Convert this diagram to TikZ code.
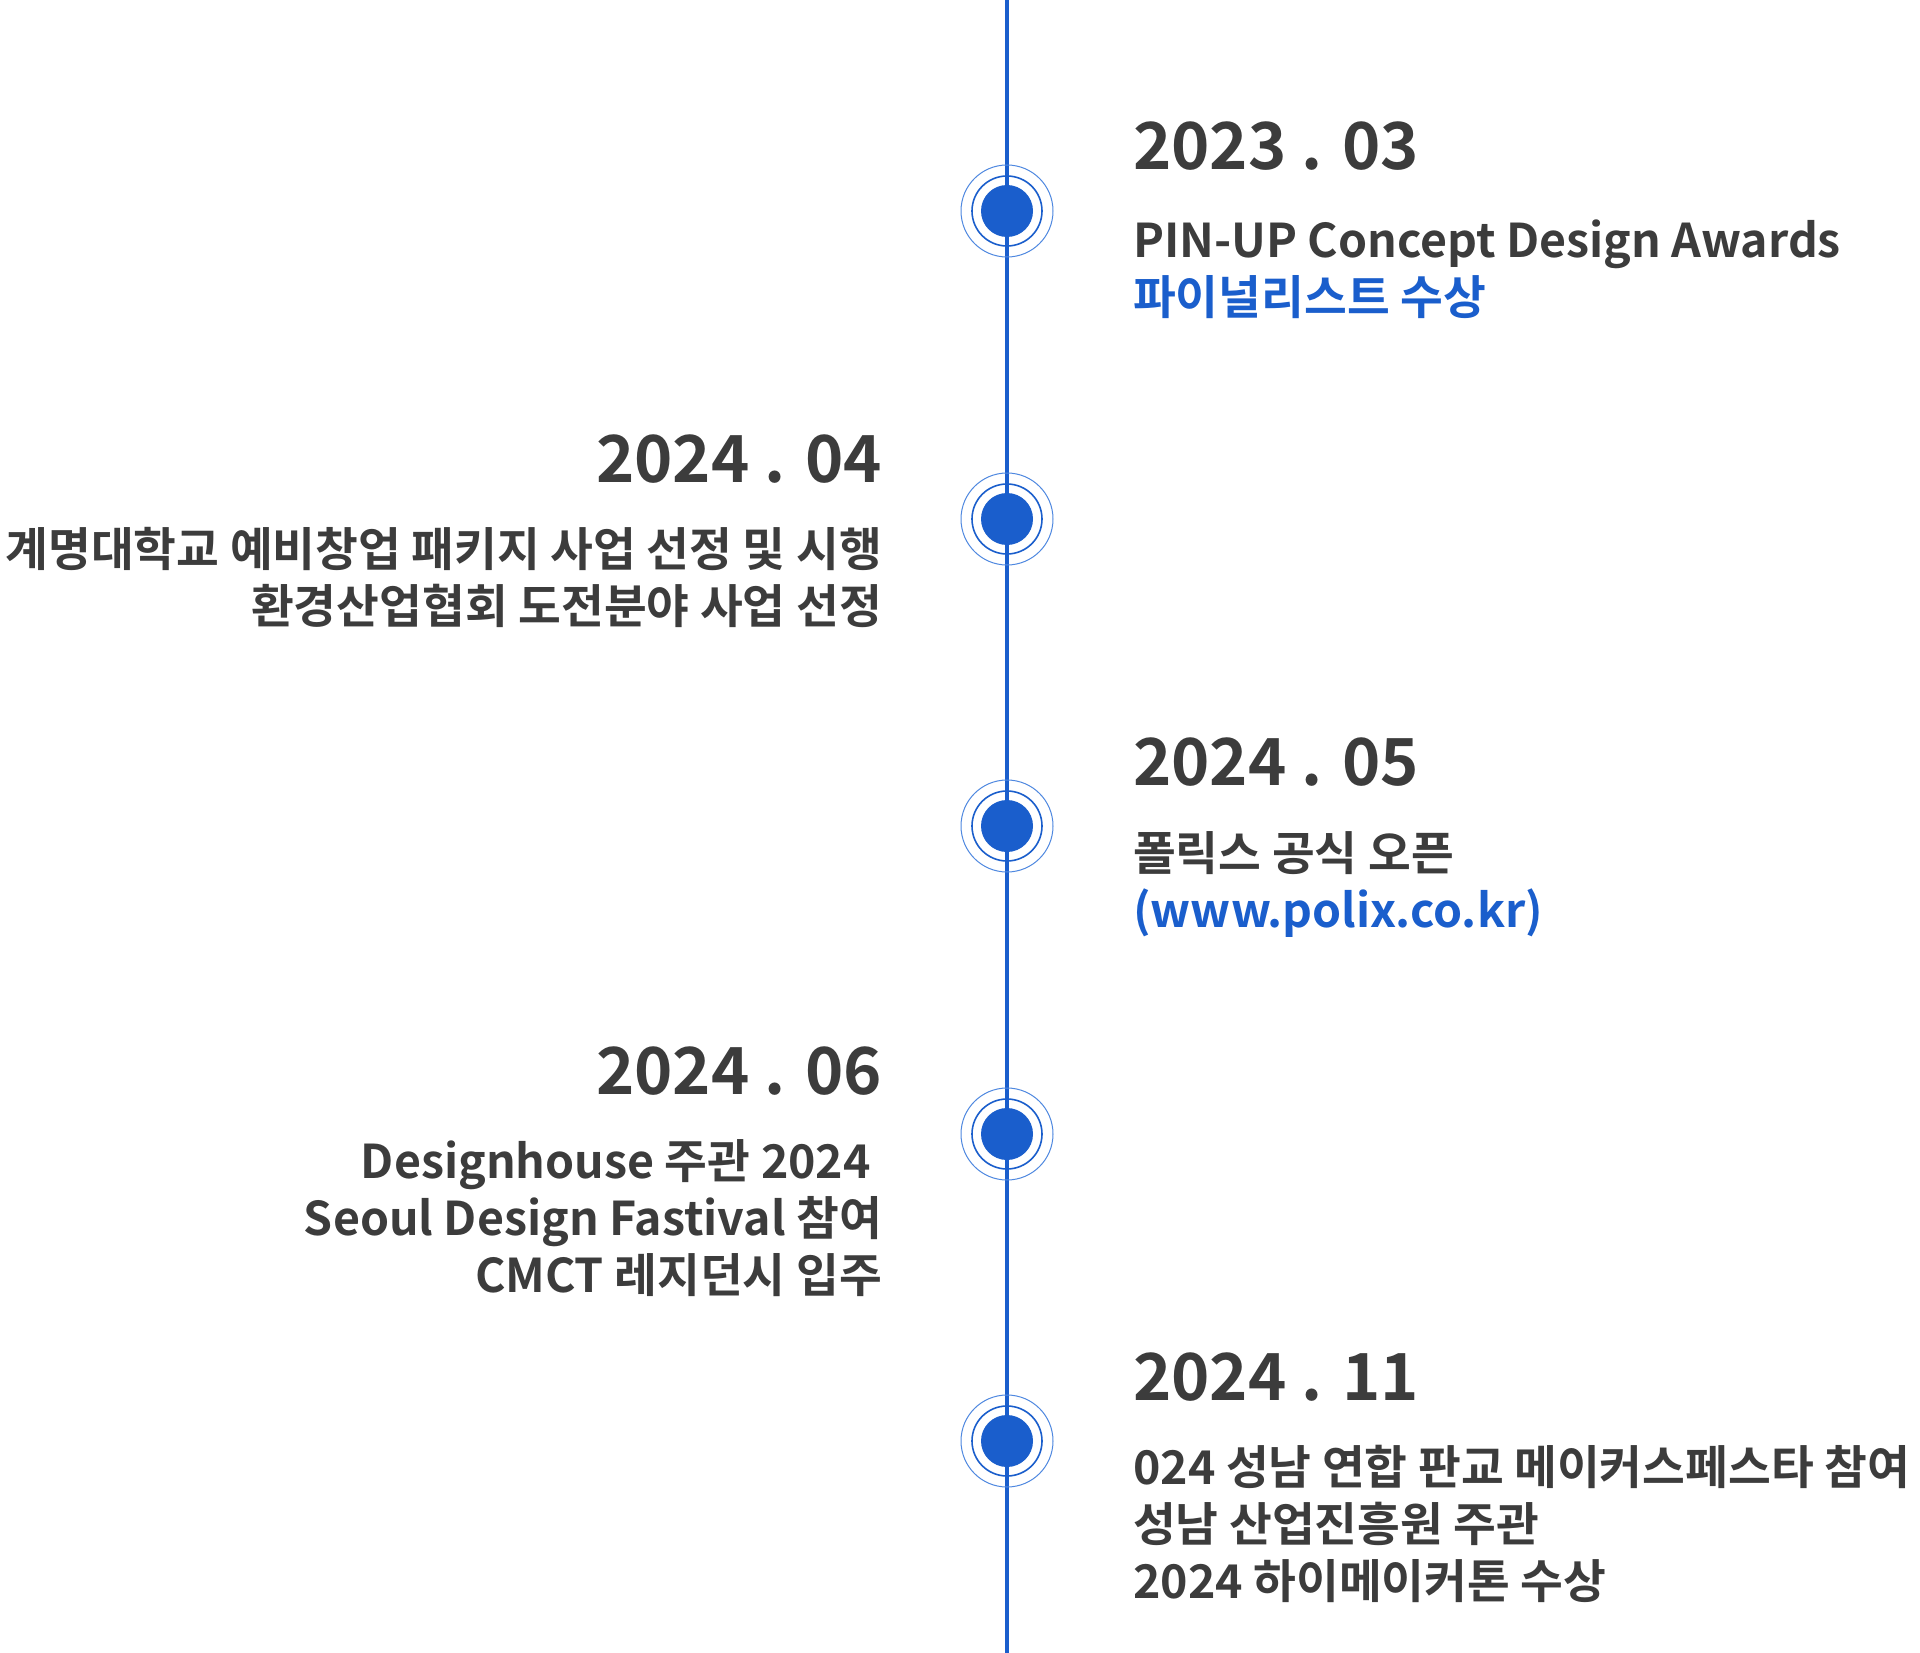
\documentclass[tikz,border=0pt]{standalone}
\usepackage{fontspec}
\setmainfont{Noto Sans CJK KR}[UprightFont=* Medium, BoldFont=* Bold]
\usetikzlibrary{positioning}

\definecolor{textgray}{HTML}{3C3C3C}
\definecolor{pointblue}{HTML}{1A5ECC}
\definecolor{ringblue}{HTML}{4F88E0}

\tikzset{
  axisline/.style={pointblue, line width=3.2pt},
  dot/.style={circle, fill=pointblue, minimum size=52pt, inner sep=0pt},
  innerring/.style={circle, draw=pointblue, line width=1.6pt, minimum size=70pt, inner sep=0pt},
  outerring/.style={circle, draw=ringblue, line width=1pt, minimum size=92pt, inner sep=0pt},
  datetext/.style={font=\fontsize{65}{65}\selectfont\bfseries, text=textgray, inner sep=0pt},
  bodytext/.style={font=\fontsize{46.5}{57}\selectfont\bfseries, text=textgray, inner sep=0pt},
}

\begin{document}
\begin{tikzpicture}[x=1pt, y=-1pt]
  \useasboundingbox[fill=white] (0,0) rectangle (1920,1653);

  % 세로 축
  \coordinate (top) at (1007,0);
  \coordinate (bottom) at (1007,1653);
  \draw[axisline] (top) -- (bottom);

  % 시점 표시
  \foreach \i/\y in {1/211, 2/519, 3/826, 4/1134, 5/1441} {
    \node[outerring] (ring\i) at (1007,\y) {};
    \node[innerring] (inner\i) at (ring\i) {};
    \node[dot] (dot\i) at (ring\i) {};
  }

  % 2023.03
  \node[datetext, anchor=north west] (date1) at (1133,122) {2023 . 03};
  \node[bodytext, anchor=north west, align=left] (body1) at (1133,220)
    {PIN-UP Concept Design Awards\\
     \textcolor{pointblue}{파이널리스트 수상}};

  % 2024.04
  \node[datetext, anchor=north east] (date2) at (882,435) {2024 . 04};
  \node[bodytext, anchor=north east, align=right] (body2) at (882,527)
    {계명대학교 예비창업 패키지 사업 선정 및 시행\\
     환경산업협회 도전분야 사업 선정};

  % 2024.05
  \node[datetext, anchor=north west] (date3) at (1133,738) {2024 . 05};
  \node[bodytext, anchor=north west, align=left] (body3) at (1133,831)
    {폴릭스 공식 오픈\\
     \textcolor{pointblue}{(www.polix.co.kr)}};

  % 2024.06
  \node[datetext, anchor=north east] (date4) at (882,1047) {2024 . 06};
  \node[bodytext, anchor=north east, align=right] (body4) at (882,1139)
    {Designhouse 주관 2024\hspace*{11pt}\\
     Seoul Design Fastival 참여\\
     CMCT 레지던시 입주};

  % 2024.11
  \node[datetext, anchor=north west] (date5) at (1133,1353) {2024 . 11};
  \node[bodytext, anchor=north west, align=left] (body5) at (1133,1445)
    {024 성남 연합 판교 메이커스페스타 참여\\
     성남 산업진흥원 주관\\
     2024 하이메이커톤 수상};
\end{tikzpicture}
\end{document}
